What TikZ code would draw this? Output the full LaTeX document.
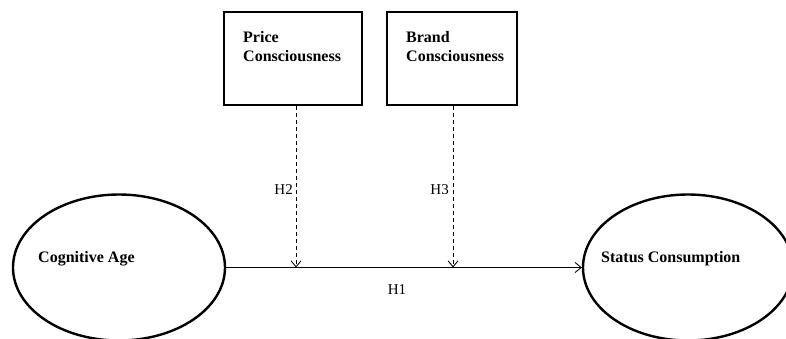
\documentclass[tikz,border=0pt]{standalone}
\usepackage{fontspec}
\setmainfont{Liberation Serif}
\usetikzlibrary{arrows.meta,shapes.geometric}
\begin{document}
\begin{tikzpicture}[x=1pt,y=-1pt,
  boxnode/.style={draw,line width=2.6pt,rectangle,inner sep=0pt,minimum width=138pt,minimum height=93pt},
  ovalnode/.style={draw,line width=2.4pt,ellipse,inner sep=0pt,minimum width=212pt,minimum height=146pt},
  boldtext/.style={font=\fontsize{16}{19.5}\selectfont\bfseries,inner sep=0pt,align=left},
  hyptext/.style={font=\fontsize{15}{18}\selectfont,inner sep=0pt},
  conn/.style={line width=0.9pt,-{Straight Barb[length=6pt,width=10pt]}},
  dconn/.style={conn,dash pattern=on 4pt off 3pt}]
\useasboundingbox (0,0) rectangle (786,339);
\clip (0,0) rectangle (786,339);
\node[boxnode] (pc) at (293,58.5) {};
\node[boxnode,minimum width=130pt] (bc) at (452,58.5) {};
\node[boldtext,anchor=north west] (pct) at (243,31) {Price\\Consciousness};
\node[boldtext,anchor=north west] (bct) at (406,31) {Brand\\Consciousness};
\node[ovalnode] (cg) at (119,267.5) {};
\node[ovalnode,minimum width=210pt] (sc) at (688,267.5) {};
\node[boldtext,anchor=base west] (cgt) at (38,262) {Cognitive Age};
\node[boldtext,anchor=base west] (sct) at (601,262) {Status Consumption};
\coordinate (h2) at (296,267.5);
\coordinate (h3) at (453,267.5);
\draw[conn] (cg.east) -- (sc.west);
\draw[dconn] (pc.south -| h2) -- (h2);
\draw[dconn] (bc.south -| h3) -- (h3);
\node[hyptext,anchor=east] (l2) at (293,190) {H2};
\node[hyptext,anchor=east] (l3) at (449,190) {H3};
\node[hyptext] (l1) at (397,290) {H1};
\end{tikzpicture}
\end{document}
